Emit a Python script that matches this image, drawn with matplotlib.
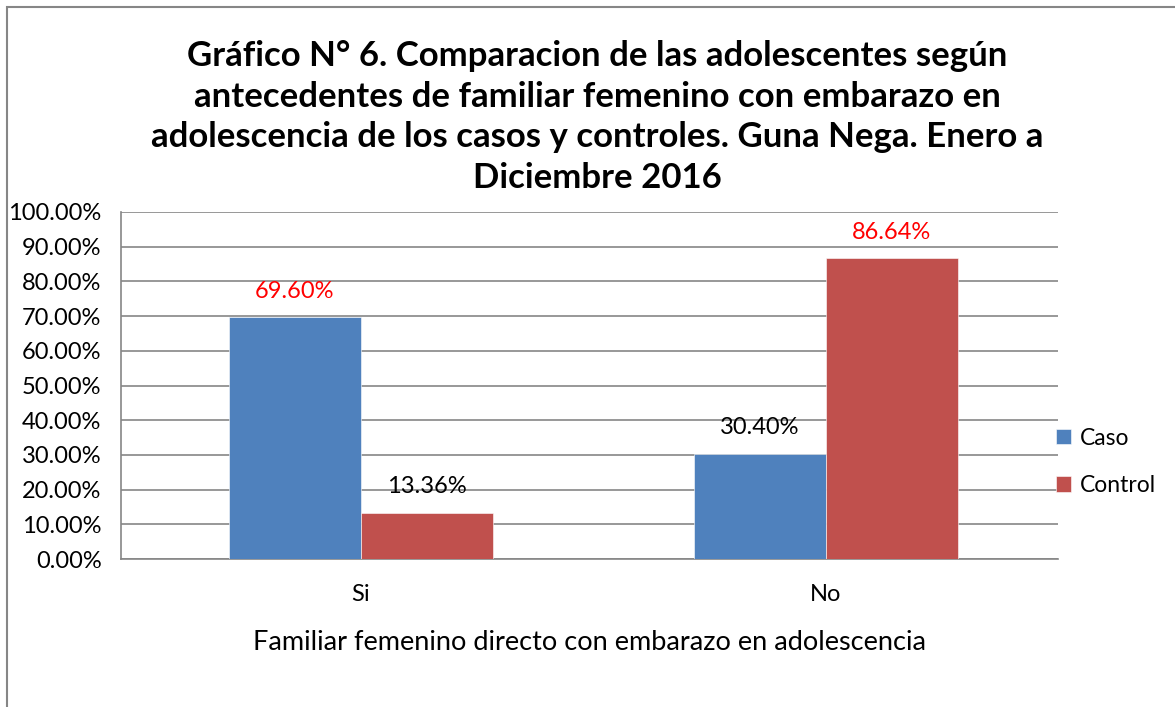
import numpy as np
import matplotlib
matplotlib.use("Agg")
import matplotlib.pyplot as plt
from matplotlib.patches import Rectangle
from matplotlib.ticker import FuncFormatter

plt.rcParams['font.family'] = ['Lato', 'DejaVu Sans']

# datos
categorias = ["Si", "No"]
series = ["Caso", "Control"]
caso = [69.60, 30.40]
control = [13.36, 86.64]
colores = ["#4F81BD", "#C0504D"]
# color de cada etiqueta de dato (serie, categoria)
color_etiquetas = [["#FF0000", "#000000"], ["#000000", "#FF0000"]]
yticks = np.arange(0, 101, 10)

titulo = ("Gráfico N° 6. Comparacion de las adolescentes según\n"
          "antecedentes de familiar femenino con embarazo en\n"
          "adolescencia de los casos y controles. Guna Nega. Enero a\n"
          "Diciembre 2016")
xlabel = "Familiar femenino directo con embarazo en adolescencia"

fig = plt.figure(figsize=(11.75, 7.07), dpi=100)
ax = fig.add_axes([121 / 1175, 1 - 559 / 707, (1058 - 121) / 1175, (559 - 212) / 707])

# borde del grafico (solo se ven izquierda y arriba)
fig.patches.append(Rectangle((7 / 1175, -0.1), 1.2, 1 - 7 / 707 + 0.1,
                             transform=fig.transFigure, fill=False,
                             edgecolor="#868686", linewidth=1.5))

x = np.arange(len(categorias))
ancho = 0.284
valores = [caso, control]
for i, (nombre, vals) in enumerate(zip(series, valores)):
    pos = x + (i - 0.5) * ancho
    ax.bar(pos, vals, width=ancho, color=colores[i], label=nombre,
           edgecolor="white", linewidth=0.4, zorder=3)
    for j, v in enumerate(vals):
        ax.annotate(f"{v:.2f}%", (pos[j], v), xytext=(0, 18.5),
                    textcoords="offset points", ha="center", va="center",
                    fontsize=17, color=color_etiquetas[i][j], zorder=4)

ax.set_xlim(-0.516, 1.5)
ax.set_ylim(0, 100)
ax.set_yticks(yticks)
ax.yaxis.set_major_formatter(FuncFormatter(lambda v, p: f"{v:.2f}%"))
ax.set_xticks(x)
ax.set_xticklabels(categorias)
ax.tick_params(axis="both", length=0, labelsize=17)
ax.tick_params(axis="y", pad=14)
ax.tick_params(axis="x", pad=18)
ax.grid(axis="y", color="#868686", linewidth=1.2, zorder=0)
for lado in ["top", "right"]:
    ax.spines[lado].set_visible(False)
for lado in ["left", "bottom"]:
    ax.spines[lado].set_color("#868686")
    ax.spines[lado].set_linewidth(1.2)

ax.set_xlabel(xlabel, fontsize=19.5, labelpad=18)

fig.text(597 / 1175, 1 - 117 / 707, titulo, ha="center", va="center",
         fontsize=25, fontweight="bold", linespacing=1.33)

ax.legend(loc="center left", bbox_to_anchor=(0.998, 0.28), frameon=False,
          fontsize=16.5, handlelength=0.65, handleheight=0.65, handletextpad=0.4,
          labelspacing=1.15, borderpad=0, borderaxespad=0)

fig.savefig("out.png", dpi=100)
